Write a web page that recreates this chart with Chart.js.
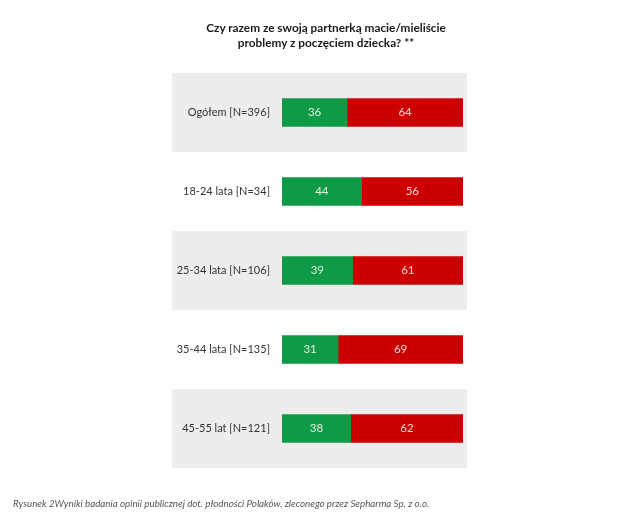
<!DOCTYPE html>
<html>
<head>
<meta charset="utf-8">
<script src="https://cdn.jsdelivr.net/npm/chart.js@4.4.1/dist/chart.umd.min.js"></script>
<style>
  html, body { margin: 0; padding: 0; background: #fff; }
  #wrap { position: relative; width: 633px; height: 525px; }
  #c { position: absolute; left: 0; top: 0; }
  #title { position: absolute; top: 20px; left: 126px; width: 400px; text-align: center;
    font-family: Lato, sans-serif; font-weight: bold; font-size: 11.8px; line-height: 15px; color: #1a1a1a; }
  #caption { position: absolute; left: 13px; top: 497px; font-family: Lato, sans-serif; font-style: italic;
    font-size: 9.75px; color: #555; white-space: nowrap; }
</style>
</head>
<body>
<div id="wrap">
  <canvas id="c" width="633" height="525"></canvas>
  <div id="title">Czy razem ze swoją partnerką macie/mieliście<br>problemy z poczęciem dziecka? **</div>
  <div id="caption">Rysunek 2Wyniki badania opinii publicznej dot. płodności Polaków, zleconego przez Sepharma Sp. z o.o.</div>
</div>
<script>
const categories = ['Ogółem [N=396]', '18-24 lata [N=34]', '25-34 lata [N=106]', '35-44 lata [N=135]', '45-55 lat [N=121]'];
const yesValues = [36, 44, 39, 31, 38];
const noValues = [64, 56, 61, 69, 62];

const bandPlugin = {
  id: 'bands',
  beforeDraw(chart) {
    const { ctx, chartArea } = chart;
    const y = chart.scales.y;
    const step = (chartArea.bottom - chartArea.top) / categories.length;
    ctx.save();
    ctx.fillStyle = '#ededed';
    categories.forEach((c, i) => {
      if (i % 2 === 0) {
        const cy = y.getPixelForValue(i);
        ctx.fillRect(172, cy - step / 2, 467 - 172, step);
      }
    });
    ctx.restore();
  }
};

const labelPlugin = {
  id: 'vals',
  afterDatasetsDraw(chart) {
    const { ctx } = chart;
    ctx.save();
    ctx.font = '11.5px Lato, sans-serif';
    ctx.textAlign = 'center';
    ctx.textBaseline = 'middle';
    chart.data.datasets.forEach((ds, di) => {
      const meta = chart.getDatasetMeta(di);
      meta.data.forEach((el, i) => {
        const p = el.getCenterPoint();
        ctx.fillStyle = di === 0 ? '#dff0d8' : '#f6dada';
        ctx.fillText(String(ds.data[i]), p.x, p.y);
      });
    });
    ctx.restore();
  }
};

new Chart(document.getElementById('c'), {
  type: 'bar',
  data: {
    labels: categories,
    datasets: [
      { label: 'Tak', data: yesValues, backgroundColor: '#0f9a48', barThickness: 28 },
      { label: 'Nie', data: noValues, backgroundColor: '#cc0000', barThickness: 28 }
    ]
  },
  options: {
    indexAxis: 'y',
    responsive: false,
    animation: false,
    layout: { padding: { left: 0, right: 170, top: 73, bottom: 57 } },
    plugins: { legend: { display: false }, tooltip: { enabled: false }, title: { display: false } },
    scales: {
      x: { stacked: true, min: 0, max: 100, display: false },
      y: {
        stacked: true,
        grid: { display: false },
        border: { display: false },
        ticks: { color: '#333', font: { family: 'Lato, sans-serif', size: 11 }, padding: 4 },
        afterFit(s) { s.width = 282; }
      }
    }
  },
  plugins: [bandPlugin, labelPlugin]
});
</script>
</body>
</html>
